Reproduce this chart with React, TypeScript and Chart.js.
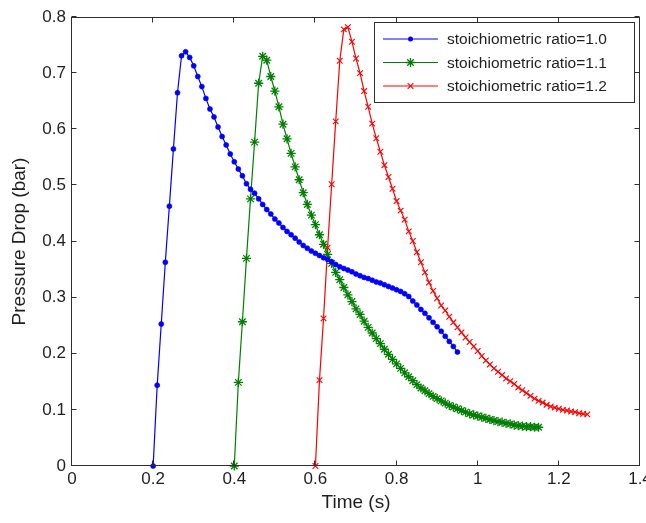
import React, { useEffect, useRef } from 'react';
import { Chart, registerables } from 'chart.js';

Chart.register(...registerables);

const xTickValues = [0, 0.2, 0.4, 0.6, 0.8, 1.0, 1.2, 1.4];
const yTickValues = [0, 0.1, 0.2, 0.3, 0.4, 0.5, 0.6, 0.7, 0.8];
const seriesLabels = ['stoichiometric ratio=1.0', 'stoichiometric ratio=1.1', 'stoichiometric ratio=1.2'];
const xTitle = 'Time (s)';
const yTitle = 'Pressure Drop (bar)';

const time10 = [
  0.20, 0.21, 0.22, 0.23, 0.24, 0.25, 0.26, 0.27, 0.28, 0.29,
  0.30, 0.31, 0.32, 0.33, 0.34, 0.35, 0.36, 0.37, 0.38, 0.39,
  0.40, 0.41, 0.42, 0.43, 0.44, 0.45, 0.46, 0.47, 0.48, 0.49,
  0.50, 0.51, 0.52, 0.53, 0.54, 0.55, 0.56, 0.57, 0.58, 0.59,
  0.60, 0.61, 0.62, 0.63, 0.64, 0.65, 0.66, 0.67, 0.68, 0.69,
  0.70, 0.71, 0.72, 0.73, 0.74, 0.75, 0.76, 0.77, 0.78, 0.79,
  0.80, 0.81, 0.82, 0.83, 0.84, 0.85, 0.86, 0.87, 0.88, 0.89,
  0.90, 0.91, 0.92, 0.93, 0.94, 0.95,
];
const pressure10 = [
  0, 0.144, 0.253, 0.363, 0.463, 0.565, 0.665, 0.731, 0.738, 0.728,
  0.713, 0.694, 0.676, 0.655, 0.636, 0.622, 0.604, 0.587, 0.572, 0.556,
  0.542, 0.529, 0.517, 0.503, 0.493, 0.486, 0.476, 0.466, 0.457, 0.449,
  0.440, 0.433, 0.425, 0.418, 0.412, 0.406, 0.399, 0.393, 0.388, 0.383,
  0.379, 0.375, 0.371, 0.368, 0.364, 0.359, 0.355, 0.352, 0.349, 0.346,
  0.342, 0.339, 0.336, 0.334, 0.331, 0.328, 0.326, 0.323, 0.320, 0.317,
  0.314, 0.311, 0.307, 0.302, 0.294, 0.287, 0.279, 0.272, 0.264, 0.256,
  0.248, 0.240, 0.231, 0.222, 0.213, 0.203,
];

const time11 = [
  0.40, 0.41, 0.42, 0.43, 0.44, 0.45, 0.46, 0.47, 0.48, 0.49,
  0.50, 0.51, 0.52, 0.53, 0.54, 0.55, 0.56, 0.57, 0.58, 0.59,
  0.60, 0.61, 0.62, 0.63, 0.64, 0.65, 0.66, 0.67, 0.68, 0.69,
  0.70, 0.71, 0.72, 0.73, 0.74, 0.75, 0.76, 0.77, 0.78, 0.79,
  0.80, 0.81, 0.82, 0.83, 0.84, 0.85, 0.86, 0.87, 0.88, 0.89,
  0.90, 0.91, 0.92, 0.93, 0.94, 0.95, 0.96, 0.97, 0.98, 0.99,
  1.00, 1.01, 1.02, 1.03, 1.04, 1.05, 1.06, 1.07, 1.08, 1.09,
  1.10, 1.11, 1.12, 1.13, 1.14, 1.15,
];
const pressure11 = [
  0, 0.149, 0.257, 0.370, 0.476, 0.577, 0.682, 0.730, 0.723, 0.694,
  0.668, 0.640, 0.609, 0.583, 0.557, 0.533, 0.510, 0.487, 0.466, 0.447,
  0.430, 0.412, 0.395, 0.377, 0.361, 0.345, 0.332, 0.318, 0.305, 0.293,
  0.280, 0.270, 0.258, 0.247, 0.237, 0.227, 0.218, 0.208, 0.199, 0.190,
  0.182, 0.174, 0.166, 0.159, 0.152, 0.145, 0.139, 0.134, 0.129, 0.124,
  0.120, 0.116, 0.112, 0.108, 0.105, 0.102, 0.099, 0.096, 0.093, 0.091,
  0.089, 0.087, 0.085, 0.083, 0.081, 0.079, 0.078, 0.076, 0.075, 0.073,
  0.072, 0.071, 0.070, 0.070, 0.069, 0.069,
];

const time12 = [
  0.60, 0.61, 0.62, 0.63, 0.64, 0.65, 0.66, 0.67, 0.68, 0.69,
  0.70, 0.71, 0.72, 0.73, 0.74, 0.75, 0.76, 0.77, 0.78, 0.79,
  0.80, 0.81, 0.82, 0.83, 0.84, 0.85, 0.86, 0.87, 0.88, 0.89,
  0.90, 0.91, 0.92, 0.93, 0.94, 0.95, 0.96, 0.97, 0.98, 0.99,
  1.00, 1.01, 1.02, 1.03, 1.04, 1.05, 1.06, 1.07, 1.08, 1.09,
  1.10, 1.11, 1.12, 1.13, 1.14, 1.15, 1.16, 1.17, 1.18, 1.19,
  1.20, 1.21, 1.22, 1.23, 1.24, 1.25, 1.26, 1.27,
];
const pressure12 = [
  0, 0.153, 0.263, 0.389, 0.502, 0.614, 0.722, 0.778, 0.782, 0.756,
  0.726, 0.700, 0.668, 0.640, 0.610, 0.584, 0.560, 0.536, 0.515, 0.494,
  0.472, 0.455, 0.439, 0.418, 0.401, 0.381, 0.363, 0.345, 0.327, 0.312,
  0.299, 0.286, 0.277, 0.266, 0.256, 0.247, 0.238, 0.229, 0.221, 0.213,
  0.205, 0.196, 0.188, 0.181, 0.174, 0.168, 0.162, 0.156, 0.151, 0.146,
  0.140, 0.135, 0.130, 0.125, 0.120, 0.116, 0.113, 0.109, 0.106, 0.104,
  0.102, 0.100, 0.099, 0.097, 0.096, 0.094, 0.093, 0.092,
];

const FONT = '"Liberation Sans", Arial, Helvetica, sans-serif';
const TEXT = '#1e1e1e';
const AXIS = '#2e2e2e';

const pairs = (xs: number[], ys: number[]) => {
  const n = Math.min(xs.length, ys.length);
  const out: { x: number; y: number }[] = [];
  for (let i = 0; i < n; i++) out.push({ x: xs[i], y: ys[i] });
  return out;
};

const fmt = (v: number) => String(Number(Number(v).toFixed(1)));

function drawMarker(ctx: CanvasRenderingContext2D, style: string, x: number, y: number, r: number, color: string, lw: number) {
  ctx.save();
  ctx.strokeStyle = color;
  ctx.fillStyle = color;
  ctx.lineWidth = lw;
  ctx.beginPath();
  if (style === 'circle') {
    ctx.arc(x, y, r, 0, Math.PI * 2);
    ctx.fill();
  } else if (style === 'star') {
    ctx.moveTo(x - r, y); ctx.lineTo(x + r, y);
    ctx.moveTo(x, y - r); ctx.lineTo(x, y + r);
    const d = r * Math.SQRT1_2;
    ctx.moveTo(x - d, y - d); ctx.lineTo(x + d, y + d);
    ctx.moveTo(x - d, y + d); ctx.lineTo(x + d, y - d);
    ctx.stroke();
  } else {
    const d = r * Math.SQRT1_2;
    ctx.moveTo(x - d, y - d); ctx.lineTo(x + d, y + d);
    ctx.moveTo(x - d, y + d); ctx.lineTo(x + d, y - d);
    ctx.stroke();
  }
  ctx.restore();
}

const framePlugin = {
  id: 'matlabFrame',
  afterDatasetsDraw(chart: any) {
    const { ctx, chartArea: a, scales } = chart;
    ctx.save();
    ctx.strokeStyle = AXIS;
    ctx.lineWidth = 1;
    const L = Math.round(a.left) - 0.5;
    const R = Math.round(a.right) - 0.5;
    const T = Math.round(a.top) + 0.5;
    const B = Math.round(a.bottom) - 0.5;
    ctx.strokeRect(L, T, R - L, B - T);
    const tl = 5;
    ctx.beginPath();
    for (const v of xTickValues) {
      const px = Math.round(scales.x.getPixelForValue(v)) - 0.5;
      ctx.moveTo(px, B); ctx.lineTo(px, B - tl);
      ctx.moveTo(px, T); ctx.lineTo(px, T + tl);
    }
    for (const v of yTickValues) {
      const py = Math.round(scales.y.getPixelForValue(v)) - 0.5;
      ctx.moveTo(L, py); ctx.lineTo(L + tl, py);
      ctx.moveTo(R, py); ctx.lineTo(R - tl, py);
    }
    ctx.stroke();
    ctx.restore();
  },
  afterDraw(chart: any) {
    const { ctx, chartArea: a } = chart;
    const w = 260;
    const h = 80;
    const right = Math.round(a.right) - 6;
    const left = right - w;
    const top = Math.round(a.top) + 5;
    ctx.save();
    ctx.fillStyle = '#ffffff';
    ctx.fillRect(left, top, w, h);
    ctx.strokeStyle = AXIS;
    ctx.lineWidth = 1;
    ctx.strokeRect(left + 0.5, top + 0.5, w, h);
    chart.data.datasets.forEach((ds: any, i: number) => {
      const y = top + 17 + i * 23.5;
      ctx.strokeStyle = ds.borderColor;
      ctx.lineWidth = ds.borderWidth;
      ctx.beginPath();
      ctx.moveTo(left + 9, y);
      ctx.lineTo(left + 64, y);
      ctx.stroke();
      drawMarker(ctx, ds.pointStyle, left + 36.5, y, ds.pointStyle === 'circle' ? 2.5 : ds.pointRadius, ds.borderColor, ds.pointBorderWidth);
      ctx.fillStyle = TEXT;
      ctx.font = `15.5px ${FONT}`;
      ctx.textAlign = 'left';
      ctx.textBaseline = 'middle';
      ctx.fillText(ds.label, left + 73, y + 1);
    });
    ctx.restore();
  },
};

export default function App() {
  const canvasRef = useRef<HTMLCanvasElement | null>(null);

  useEffect(() => {
    if (!canvasRef.current) return;
    const mk = (label: string, xs: number[], ys: number[], color: string, style: string, radius: number, bw: number) => ({
      label,
      data: pairs(xs, ys),
      borderColor: color,
      backgroundColor: color,
      borderWidth: 1.2,
      pointStyle: style,
      pointRadius: radius,
      pointHoverRadius: radius,
      pointBorderColor: color,
      pointBackgroundColor: color,
      pointBorderWidth: bw,
      tension: 0,
      clip: false,
    });
    const chart = new Chart(canvasRef.current, {
      type: 'line',
      data: {
        datasets: [
          mk(seriesLabels[0], time10, pressure10, '#0000ff', 'circle', 2.5, 0.6),
          mk(seriesLabels[1], time11, pressure11, '#008000', 'star', 4.6, 1.3),
          mk(seriesLabels[2], time12, pressure12, '#ff0000', 'crossRot', 4, 1.1),
        ] as any,
      },
      options: {
        animation: false,
        responsive: false,
        devicePixelRatio: 1,
        layout: { padding: { top: 17, right: 6, left: 0, bottom: 0 } },
        plugins: { legend: { display: false }, tooltip: { enabled: false } },
        events: [],
        scales: {
          x: {
            type: 'linear',
            min: 0,
            max: 1.4,
            grid: { display: false, drawTicks: false },
            border: { display: false },
            afterBuildTicks: (s: any) => { s.ticks = xTickValues.map((v) => ({ value: v })); },
            afterFit: (s: any) => { s.height = 57; s.paddingLeft = 0; s.paddingRight = 0; },
            ticks: {
              autoSkip: false,
              maxRotation: 0,
              padding: 3,
              color: TEXT,
              font: { family: FONT, size: 17 },
              callback: (v: any) => fmt(v),
            },
            title: {
              display: true,
              text: xTitle,
              color: TEXT,
              font: { family: FONT, size: 19 },
              padding: { top: 0, bottom: 9 },
            },
          },
          y: {
            type: 'linear',
            min: 0,
            max: 0.8,
            grid: { display: false, drawTicks: false },
            border: { display: false },
            afterBuildTicks: (s: any) => { s.ticks = yTickValues.map((v) => ({ value: v })); },
            afterFit: (s: any) => { s.width = 72; s.paddingTop = 0; s.paddingBottom = 0; },
            ticks: {
              autoSkip: false,
              padding: 6,
              color: TEXT,
              font: { family: FONT, size: 17 },
              callback: (v: any) => fmt(v),
            },
            title: {
              display: true,
              text: yTitle,
              color: TEXT,
              font: { family: FONT, size: 19 },
              padding: { top: 8, bottom: 0 },
            },
          },
        },
      } as any,
      plugins: [framePlugin as any],
    });
    return () => chart.destroy();
  }, []);

  return (
    <div style={{ position: 'fixed', left: 0, top: 0, width: 646, height: 523, background: '#ffffff' }}>
      <canvas ref={canvasRef} width={646} height={523} style={{ display: 'block' }} />
    </div>
  );
}
